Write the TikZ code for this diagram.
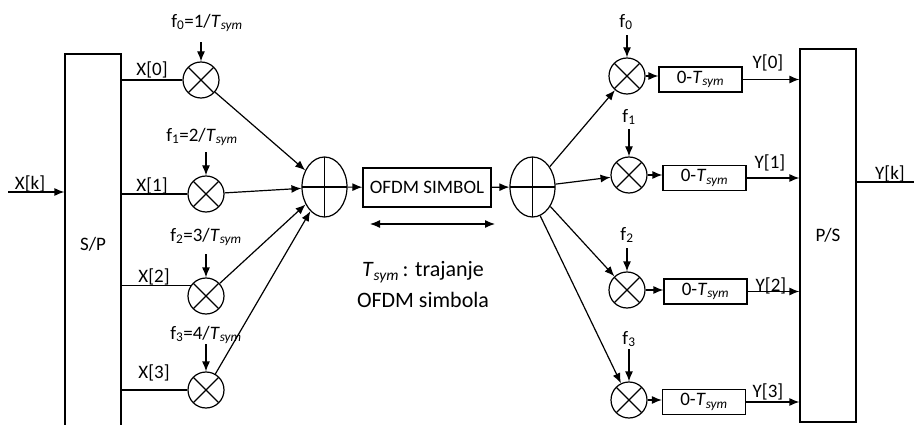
\documentclass[tikz,border=0pt]{standalone}
\usepackage{fontspec}
\setmainfont{Carlito}
\usetikzlibrary{arrows.meta,shapes.geometric}
\newcommand{\tsym}{\textit{T}\textsubscript{\textit{sym}}}
\begin{document}
\begin{tikzpicture}[x=1pt,y=-1pt,
  font=\fontsize{19}{22}\selectfont,
  line width=1.2pt,
  arr/.style={-{Latex[length=10pt,width=8pt]}},
  dblarr/.style={{Latex[length=10pt,width=8pt]}-{Latex[length=10pt,width=8pt]}},
  mult/.style={circle,draw,minimum size=36pt,inner sep=0pt,
    path picture={\draw (path picture bounding box.south west)--(path picture bounding box.north east)
                        (path picture bounding box.north west)--(path picture bounding box.south east);}},
  adder/.style={ellipse,draw,minimum width=45pt,minimum height=60pt,inner sep=0pt,
    path picture={\draw (path picture bounding box.north)--(path picture bounding box.south)
                        (path picture bounding box.west)--(path picture bounding box.east);}},
  block/.style={draw,rectangle,inner sep=0pt},
  delay/.style={block,minimum width=83pt,minimum height=25pt},
  lbl/.style={inner sep=0pt}
]
\clip (0,0) rectangle (914,425);

% serial/parallel converters
\node[block,minimum width=56pt,minimum height=380pt] (sp) at (93,244) {S/P};
\node[block,minimum width=56pt,minimum height=373pt] (ps) at (828,235.5) {P/S};

% transmitter multipliers
\node[mult] (m0) at (201,80) {};
\node[mult] (m1) at (206,194) {};
\node[mult] (m2) at (206,296) {};
\node[mult] (m3) at (206,390) {};

% adders and OFDM symbol block
\node[adder] (a1) at (324.5,187) {};
\node[adder] (a2) at (532.5,187) {};
\node[block,minimum width=128pt,minimum height=39pt] (sym) at (427,187.5) {OFDM SIMBOL};

% receiver multipliers and integrators
\node[mult] (r0) at (627,76) {};
\node[mult] (r1) at (629,175) {};
\node[mult] (r2) at (627,290) {};
\node[mult] (r3) at (629,400) {};
\node[delay] (b0) at (700.5,79.5) {0-\tsym};
\node[delay] (b1) at (704.5,178) {0-\tsym};
\node[delay] (b2) at (705.5,291.5) {0-\tsym};
\node[delay] (b3) at (704,402) {0-\tsym};

% input
\coordinate (xin) at (8,192);
\draw[arr] (xin) -- (xin -| sp.west);
\node[lbl] (xk) at (30,184) {X[k]};

% parallel branches into the multipliers
\draw (sp.east |- m0.west) -- (m0.west);
\draw (sp.east |- m1.west) -- (m1.west);
\draw (sp.east |- m2.146) -- (m2.146);
\draw (sp.east |- m3.west) -- (m3.west);
\node[lbl] (x0) at (152,70) {X[0]};
\node[lbl] (x1) at (152,186) {X[1]};
\node[lbl] (x2) at (154,277) {X[2]};
\node[lbl] (x3) at (154,373) {X[3]};

% carrier frequencies
\node[lbl] (f0) at (207,23) {f\textsubscript{0}=1/\tsym};
\node[lbl] (f1) at (202,137) {f\textsubscript{1}=2/\tsym};
\node[lbl] (f2) at (206,237) {f\textsubscript{2}=3/\tsym};
\node[lbl] (f3) at (206,335) {f\textsubscript{3}=4/\tsym};
\draw[arr] ([yshift=19pt]m0.north) -- (m0.north);
\draw[arr] ([yshift=23pt]m1.north) -- (m1.north);
\draw[arr] ([yshift=23pt]m2.north) -- (m2.north);
\draw[arr] ([yshift=27pt]m3.north) -- (m3.north);

% summation
\draw[arr] (m0) -- (a1);
\draw[arr] (m1) -- (a1);
\draw[arr] (m2) -- (a1);
\draw[arr] (m3) -- (a1);
\draw[arr] (a1) -- (sym);
\draw[arr] (sym) -- (a2);

% symbol duration
\coordinate (d1) at (370,224);
\coordinate (d2) at (495,224);
\draw[dblarr] (d1) -- (d2);
\node[lbl,align=center,font=\fontsize{22}{31}\selectfont] (cap) at (423,285)
  {\textit{T}\textsubscript{\textit{sym}}\,: trajanje\\OFDM simbola};

% receiver branches
\draw[arr] (a2) -- (r0);
\draw[arr] (a2) -- (r1);
\draw[arr] (a2) -- (r2);
\draw[arr] (a2.-75) -- (r3);

\node[lbl] (g0) at (626,22) {f\textsubscript{0}};
\node[lbl] (g1) at (629,117) {f\textsubscript{1}};
\node[lbl] (g2) at (627,235) {f\textsubscript{2}};
\node[lbl] (g3) at (629,339) {f\textsubscript{3}};
\draw[arr] ([yshift=22pt]r0.north) -- (r0.north);
\draw[arr] ([yshift=27pt]r1.north) -- (r1.north);
\draw[arr] ([yshift=23pt]r2.north) -- (r2.north);
\draw[arr] ([yshift=32pt]r3.north) -- (r3.north);

\draw[arr] (r0.east) -- (r0.east -| b0.west);
\draw[arr] (r1.east) -- (r1.east -| b1.west);
\draw[arr] (r2.east) -- (r2.east -| b2.west);
\draw[arr] (r3.east) -- (r3.east -| b3.west);

\draw[arr] (b0.east) -- (b0.east -| ps.west);
\draw[arr] (b1.east) -- (b1.east -| ps.west);
\draw[arr] (b2.east) -- (b2.east -| ps.west);
\draw[arr] (b3.east) -- (b3.east -| ps.west);
\node[lbl] (y0) at (768,63) {Y[0]};
\node[lbl] (y1) at (770,163) {Y[1]};
\node[lbl] (y2) at (771,286) {Y[2]};
\node[lbl] (y3) at (768,392) {Y[3]};

% output
\coordinate (yout) at (914,182);
\draw (ps.east |- yout) -- (yout);
\node[lbl] (yk) at (890,174) {Y[k]};
\end{tikzpicture}
\end{document}
